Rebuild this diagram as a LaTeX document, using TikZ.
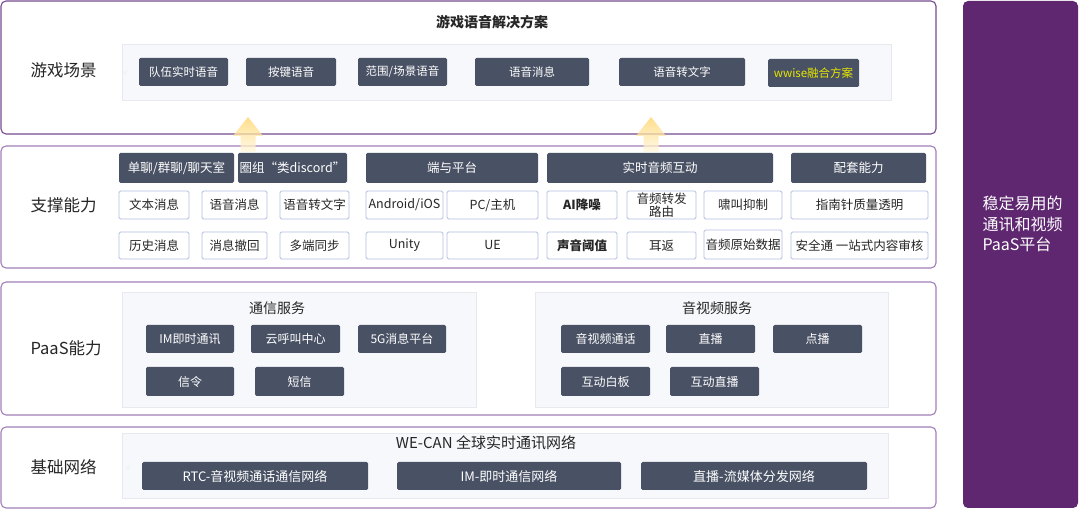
\documentclass[tikz,border=0pt]{standalone}
\usepackage{fontspec}
\setmainfont{Noto Sans CJK SC}
\usetikzlibrary{positioning}
\definecolor{slate}{HTML}{495164}
\definecolor{plum}{HTML}{5E2770}
\definecolor{edgetop}{HTML}{764A91}
\definecolor{edgelow}{HTML}{A080B6}
\definecolor{mist}{HTML}{F7F8FB}
\definecolor{mistline}{HTML}{E7E9EF}
\definecolor{skyline}{HTML}{B0C0E0}
\definecolor{ink}{HTML}{262626}
\definecolor{wwise}{HTML}{E6E600}
\definecolor{glowtop}{HTML}{FFD466}
\definecolor{glowbot}{HTML}{FFF7DF}
% box from corner (x1,y1) to (x2,y2)
\newcommand\bx[7]{\node[#1,minimum width={#4-#2},minimum height={#5-#3}] (#6) at ({(#2+#4)/2},{(#3+#5)/2}) {#7};}

\begin{document}
\begin{tikzpicture}[x=1pt,y=-1pt,
  panel/.style={draw=edgelow,line width=1.1pt,rounded corners=5,fill=white},
  grey/.style={draw=mistline,fill=mist,line width=.6pt},
  dark/.style={fill=slate,rounded corners=1.5,text=white,inner sep=0,font=\fontsize{11.5}{13}\selectfont},
  thin/.style={draw=skyline,line width=.8pt,rounded corners=1.5,fill=white,text=ink,inner sep=0,align=center,font=\fontsize{12.5}{13.5}\selectfont},
  layer/.style={anchor=west,text=ink,font=\fontsize{16.5}{18}\selectfont},
  caption/.style={text=ink,font=\fontsize{14}{16}\selectfont},
  glow/.style={top color=glowtop,bottom color=glowbot,fill opacity=.75}]
\useasboundingbox (0,0) rectangle (1080,510);

% layers
\draw[panel,draw=edgetop] (1,1) rectangle (936,134);
\draw[panel] (1,146) rectangle (936,268);
\draw[panel] (1,282) rectangle (936,415);
\draw[panel] (1,427) rectangle (936,508);
\fill[plum,rounded corners=5] (963,1) rectangle (1078,508);

\node[layer] (l1) at (27,70) {游戏场景};
\node[layer] (l2) at (27,205) {支撑能力};
\node[layer] (l3) at (27,348) {PaaS能力};
\node[layer] (l4) at (27,467) {基础网络};

% game scenes
\node[caption,font=\fontsize{14}{16}\selectfont\bfseries] (t1) at (492,22) {游戏语音解决方案};
\draw[grey] (122,44) rectangle (891,100);
\node[text=mistline!80!slate!30,font=\fontsize{9}{9}\selectfont] (v1) at (125,73) {v};
\bx{dark}{139}{58}{228}{86}{s1}{队伍实时语音}
\bx{dark}{246}{58}{336}{86}{s2}{按键语音}
\bx{dark}{358}{58}{447}{86}{s3}{范围/场景语音}
\bx{dark}{475}{58}{589}{86}{s4}{语音消息}
\bx{dark}{619}{58}{745}{86}{s5}{语音转文字}
\bx{dark,text=wwise}{768}{59}{859}{87}{s6}{wwise融合方案}

% support
\bx{dark,font=\fontsize{12.5}{14}\selectfont}{119}{153}{234}{183}{h1}{单聊/群聊/聊天室}
\bx{dark,font=\fontsize{12.5}{14}\selectfont}{238}{153}{347}{183}{h2}{圈组“类discord”}
\bx{dark,font=\fontsize{12.5}{14}\selectfont}{366}{153}{538}{183}{h3}{端与平台}
\bx{dark,font=\fontsize{12.5}{14}\selectfont}{547}{153}{773}{183}{h4}{实时音频互动}
\bx{dark,font=\fontsize{12.5}{14}\selectfont}{791}{153}{926}{183}{h5}{配套能力}

\bx{thin}{119}{191}{189}{219}{a1}{文本消息}
\bx{thin}{202}{191}{267}{219}{a2}{语音消息}
\bx{thin}{280}{191}{349}{219}{a3}{语音转文字}
\bx{thin}{366}{191}{443}{219}{a4}{Android/iOS}
\bx{thin}{447}{191}{538}{219}{a5}{PC/主机}
\bx{thin,font=\fontsize{12.5}{13.5}\selectfont\bfseries}{547}{191}{617}{219}{a6}{AI降噪}
\bx{thin,font=\fontsize{12.5}{12.5}\selectfont}{627}{191}{696}{219}{a7}{音频转发\\路由}
\bx{thin}{704}{191}{782}{219}{a8}{啸叫抑制}
\bx{thin}{791}{191}{928}{219}{a9}{指南针质量透明}

\bx{thin}{119}{232}{189}{259}{b1}{历史消息}
\bx{thin}{202}{232}{267}{259}{b2}{消息撤回}
\bx{thin}{280}{232}{349}{259}{b3}{多端同步}
\bx{thin}{366}{232}{443}{259}{b4}{Unity}
\bx{thin}{447}{232}{538}{259}{b5}{UE}
\bx{thin,font=\fontsize{12.5}{13.5}\selectfont\bfseries}{547}{232}{617}{259}{b6}{声音阈值}
\bx{thin}{627}{232}{696}{259}{b7}{耳返}
\bx{thin}{704}{230}{782}{259}{b8}{音频原始数据}
\bx{thin}{791}{232}{928}{259}{b9}{安全通 一站式内容审核}

% paas
\draw[grey] (122,292) rectangle (476,407);
\draw[grey] (535,292) rectangle (888,407);
\node[caption] (t2) at (277,308) {通信服务};
\node[caption] (t3) at (717,308) {音视频服务};
\bx{dark,font=\fontsize{12}{14}\selectfont}{146}{325}{234}{353}{p1}{IM即时通讯}
\bx{dark,font=\fontsize{12}{14}\selectfont}{251}{325}{340}{353}{p2}{云呼叫中心}
\bx{dark,font=\fontsize{12}{14}\selectfont}{358}{325}{446}{353}{p3}{5G消息平台}
\bx{dark,font=\fontsize{12}{14}\selectfont}{146}{367}{234}{396}{p4}{信令}
\bx{dark,font=\fontsize{12}{14}\selectfont}{255}{367}{344}{396}{p5}{短信}
\bx{dark,font=\fontsize{12}{14}\selectfont}{561}{325}{650}{353}{q1}{音视频通话}
\bx{dark,font=\fontsize{12}{14}\selectfont}{666}{325}{755}{353}{q2}{直播}
\bx{dark,font=\fontsize{12}{14}\selectfont}{773}{325}{862}{353}{q3}{点播}
\bx{dark,font=\fontsize{12}{14}\selectfont}{561}{367}{650}{396}{q4}{互动白板}
\bx{dark,font=\fontsize{12}{14}\selectfont}{670}{367}{759}{396}{q5}{互动直播}

% network
\draw[grey] (122,433) rectangle (888,498);
\node[caption,font=\fontsize{15}{17}\selectfont] (t4) at (486,443) {WE-CAN 全球实时通讯网络};
\node[text=mistline!80!slate!30,font=\fontsize{9}{9}\selectfont] (v2) at (128,468) {v};
\bx{dark,font=\fontsize{13}{15}\selectfont}{142}{462}{368}{490}{n1}{RTC-音视频通话通信网络}
\bx{dark,font=\fontsize{13}{15}\selectfont}{397}{462}{621}{490}{n2}{IM-即时通信网络}
\bx{dark,font=\fontsize{13}{15}\selectfont}{641}{462}{867}{490}{n3}{直播-流媒体分发网络}

% side
\node[anchor=west,align=left,text=white,font=\fontsize{16}{20.5}\selectfont] (side) at (979,224) {稳定易用的\\通讯和视频\\PaaS平台};

% up arrows
\shade[glow] (248,117) -- (263,136) -- (255.5,136) -- (255.5,152) -- (240.5,152) -- (240.5,136) -- (233,136) -- cycle;
\shade[glow] (651,117) -- (666,136) -- (658.5,136) -- (658.5,152) -- (643.5,152) -- (643.5,136) -- (636,136) -- cycle;
\end{tikzpicture}
\end{document}
